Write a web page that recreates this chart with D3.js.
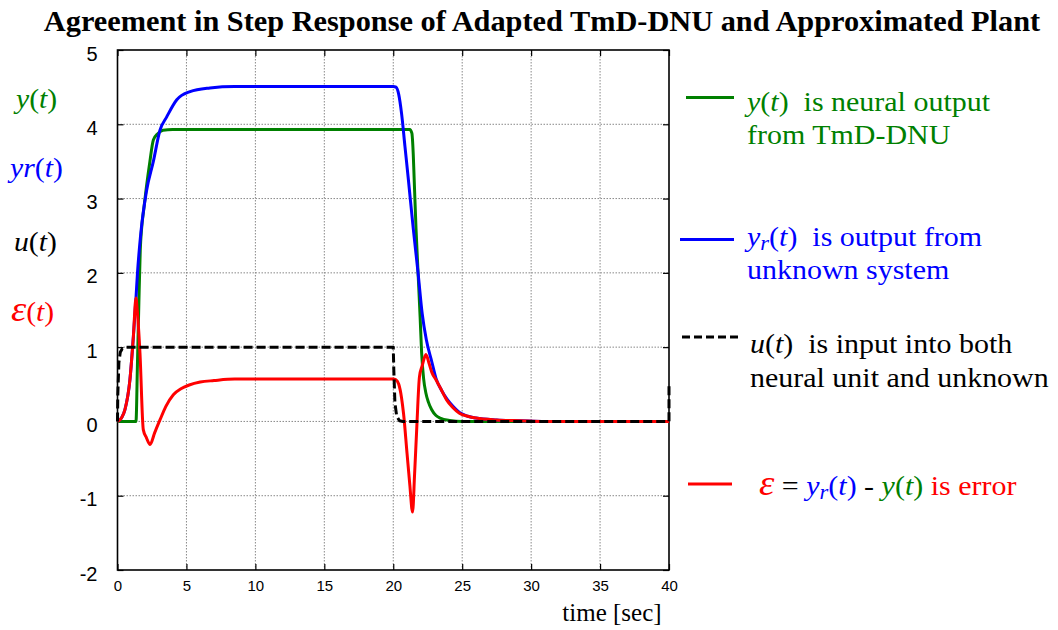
<!DOCTYPE html>
<html>
<head>
<meta charset="utf-8">
<script src="https://cdn.jsdelivr.net/npm/d3@7/dist/d3.min.js"></script>
<style>
  html, body { margin: 0; padding: 0; background: #fff; }
  svg { display: block; }
  text { white-space: pre; }
</style>
</head>
<body>
<svg id="chart" width="1058" height="630"></svg>
<script>
// Tick values
const xTicks = [0, 5, 10, 15, 20, 25, 30, 35, 40];
const yTicks = [-2, -1, 0, 1, 2, 3, 4, 5];

// u(t): input step (time, value)
const uTime = [0, 0.02, 0.1, 0.2, 0.35, 0.6, 1.0, 20.0, 20.04, 20.12, 20.25, 20.45, 20.7, 40.0, 40.0];
const uVal  = [0, 0.35, 0.79, 0.93, 0.98, 1.0, 1.0, 1.0, 0.7, 0.25, 0.07, 0.01, 0, 0, 0.52];

// y(t): neural unit output
const yTime = [0, 1.34, 1.45, 1.55, 1.65, 1.75, 1.9, 2.1, 2.35, 2.6, 2.9, 3.3, 4.0, 21.2, 21.35, 21.45, 21.52, 21.65, 21.8, 21.95, 22.06, 22.2, 22.37, 22.55, 22.78, 23.1, 23.4, 24.1, 25.0, 40.0];
const yVal  = [0, 0, 0.8, 1.6, 2.3, 2.6, 2.85, 3.16, 3.5, 3.79, 3.87, 3.92, 3.93, 3.93, 3.88, 3.6, 3.25, 2.6, 2.0, 1.4, 0.92, 0.58, 0.38, 0.26, 0.16, 0.08, 0.045, 0.013, 0, 0];

// yr(t): output of the unknown system
const yrTime = [0, 0.3, 0.54, 0.9, 1.15, 1.34, 1.45, 1.7, 2.1, 2.6, 3.08, 3.57, 4.3, 5.26, 6.7, 8.5, 20.0, 20.2, 20.4, 20.6, 20.85, 21.1, 21.45, 21.8, 22.1, 22.4, 22.8, 23.1, 23.5, 23.9, 24.4, 24.8, 25.4, 26.0, 27.5, 29.2, 31.0, 40.0];
const yrVal  = [0, 0.05, 0.16, 0.56, 1.14, 1.66, 2.0, 2.55, 3.1, 3.5, 3.92, 4.1, 4.33, 4.44, 4.49, 4.51, 4.51, 4.5, 4.4, 4.15, 3.7, 3.25, 2.6, 2.0, 1.45, 1.1, 0.8, 0.58, 0.42, 0.3, 0.19, 0.12, 0.07, 0.045, 0.02, 0.01, 0, 0];

// e(t) = yr(t) - y(t): error
const eTime = [0, 0.3, 0.54, 0.9, 1.15, 1.34, 1.45, 1.63, 1.87, 2.1, 2.36, 2.7, 3.08, 3.5, 4.05, 4.6, 5.2, 6.0, 7.0, 8.5, 20.0, 20.2, 20.4, 20.6, 20.75, 21.0, 21.2, 21.4, 21.55, 21.7, 21.9, 22.1, 22.37, 22.6, 22.8, 23.1, 23.5, 23.87, 24.3, 24.8, 25.4, 26.0, 27.5, 29.2, 31.0, 40.0];
const eVal  = [0, 0.05, 0.16, 0.56, 1.14, 1.66, 1.45, 0.92, -0.11, -0.22, -0.31, -0.15, 0.02, 0.2, 0.36, 0.44, 0.49, 0.53, 0.55, 0.57, 0.57, 0.56, 0.5, 0.32, 0.1, -0.43, -0.85, -1.22, -0.7, -0.11, 0.6, 0.75, 0.9, 0.78, 0.66, 0.56, 0.42, 0.29, 0.19, 0.11, 0.07, 0.045, 0.02, 0.01, 0, 0];

const colors = { y: "#008000", yr: "#0000ff", u: "#000000", e: "#ff0000" };

const svg = d3.select("#chart");
const plotL = 117.5, plotR = 669, plotT = 50, plotB = 570;

const x = d3.scaleLinear().domain([0, 40]).range([plotL, plotR]);
const y = d3.scaleLinear().domain([-2, 5]).range([plotB, plotT]);

const serif = "'Liberation Serif', 'Times New Roman', serif";
const sans = "'Liberation Sans', Arial, Helvetica, sans-serif";

// Title
svg.append("text")
  .attr("transform", "translate(542,31) scale(1.046,1)")
  .attr("text-anchor", "middle")
  .attr("font-family", serif).attr("font-weight", "bold").attr("font-size", 29)
  .text("Agreement in Step Response of Adapted TmD-DNU and Approximated Plant");

// Grid
const grid = svg.append("g").attr("stroke", "#888").attr("stroke-width", 1).attr("stroke-dasharray", "1.5,1.5");
xTicks.slice(1, -1).forEach(t => {
  grid.append("line").attr("x1", x(t)).attr("x2", x(t)).attr("y1", plotT).attr("y2", plotB);
});
yTicks.slice(1, -1).forEach(t => {
  grid.append("line").attr("x1", plotL).attr("x2", plotR).attr("y1", y(t)).attr("y2", y(t));
});

// Axes with inward ticks (mirrored on all sides)
const tickLen = 6;
const fmt = d => String(d);
const axB = svg.append("g").attr("transform", `translate(0,${plotB})`)
  .call(d3.axisBottom(x).tickValues(xTicks).tickSize(-tickLen).tickPadding(10).tickFormat(fmt));
const axT = svg.append("g").attr("transform", `translate(0,${plotT})`)
  .call(d3.axisTop(x).tickValues(xTicks).tickSize(-tickLen).tickFormat(""));
const axL = svg.append("g").attr("transform", `translate(${plotL},0)`)
  .call(d3.axisLeft(y).tickValues(yTicks).tickSize(-tickLen).tickPadding(20).tickFormat(fmt));
const axR = svg.append("g").attr("transform", `translate(${plotR},0)`)
  .call(d3.axisRight(y).tickValues(yTicks).tickSize(-tickLen).tickFormat(""));
[axB, axT, axL, axR].forEach(a => {
  a.select(".domain").remove();
  a.selectAll(".tick line").attr("stroke", "#000").attr("stroke-width", 1.2);
});
axB.selectAll(".tick text").attr("font-family", sans).attr("font-size", 15).attr("fill", "#000");
axL.selectAll(".tick text").attr("font-family", sans).attr("font-size", 20).attr("fill", "#000").attr("dy", "0.85em").attr("y", -7);

// Frame
svg.append("rect").attr("x", plotL).attr("y", plotT).attr("width", plotR - plotL).attr("height", plotB - plotT)
  .attr("fill", "none").attr("stroke", "#000").attr("stroke-width", 1.6);

// Series
const zip = (ts, vs) => ts.map((t, i) => [t, vs[i]]);
const smooth = d3.line().x(d => x(d[0])).y(d => y(d[1])).curve(d3.curveMonotoneX);
const straight = d3.line().x(d => x(d[0])).y(d => y(d[1]));

const plot = svg.append("g").attr("fill", "none").attr("stroke-linejoin", "round");
plot.append("path").attr("d", smooth(zip(yTime, yVal))).attr("stroke", colors.y).attr("stroke-width", 3);
plot.append("path").attr("d", smooth(zip(yrTime, yrVal))).attr("stroke", colors.yr).attr("stroke-width", 3);
plot.append("path").attr("d", smooth(zip(eTime, eVal))).attr("stroke", colors.e).attr("stroke-width", 3);
plot.append("path").attr("d", straight(zip(uTime, uVal))).attr("stroke", colors.u).attr("stroke-width", 3)
  .attr("stroke-dasharray", "9,4");

// Axis title
svg.append("text").attr("x", 612).attr("y", 621).attr("text-anchor", "middle")
  .attr("font-family", serif).attr("font-size", 25).text("time [sec]");

// Helper for mixed-style label text, slightly widened
function richText(xp, yp, size, sx, parts) {
  const t = svg.append("text").attr("transform", `translate(${xp},${yp}) scale(${sx},1)`)
    .attr("font-family", serif).attr("font-size", size);
  parts.forEach(p => {
    const s = t.append("tspan").text(p.text).attr("fill", p.color || "#000");
    if (p.italic) s.attr("font-style", "italic");
    if (p.sub) s.attr("font-size", size * 0.75).attr("baseline-shift", "-18%");
    if (p.big) s.attr("font-size", size * p.big);
  });
  return t;
}

// Left-side series labels
const S = 27, SX = 1.1;
richText(16, 108, S, SX, [{text: "y", italic: true, color: colors.y}, {text: "(", color: colors.y}, {text: "t", italic: true, color: colors.y}, {text: ")", color: colors.y}]);
richText(10, 177, S, SX, [{text: "yr", italic: true, color: colors.yr}, {text: "(", color: colors.yr}, {text: "t", italic: true, color: colors.yr}, {text: ")", color: colors.yr}]);
richText(14, 251, S, SX, [{text: "u", italic: true}, {text: "("}, {text: "t", italic: true}, {text: ")"}]);
richText(11, 321, S, SX, [{text: "ε", italic: true, big: 1.3, color: colors.e}, {text: "(", color: colors.e}, {text: "t", italic: true, color: colors.e}, {text: ")", color: colors.e}]);

// Legend
const leg = svg.append("g");
leg.append("line").attr("x1", 686).attr("x2", 734).attr("y1", 97.5).attr("y2", 97.5).attr("stroke", colors.y).attr("stroke-width", 3);
leg.append("line").attr("x1", 680).attr("x2", 734).attr("y1", 239.5).attr("y2", 239.5).attr("stroke", colors.yr).attr("stroke-width", 3);
leg.append("line").attr("x1", 682).attr("x2", 738).attr("y1", 337).attr("y2", 337).attr("stroke", colors.u).attr("stroke-width", 3).attr("stroke-dasharray", "8,4");
leg.append("line").attr("x1", 688).attr("x2", 732).attr("y1", 484).attr("y2", 484).attr("stroke", colors.e).attr("stroke-width", 3);

const L = 27, LX = 1.11;
richText(747, 111, L, LX, [{text: "y", italic: true, color: colors.y}, {text: "(", color: colors.y}, {text: "t", italic: true, color: colors.y}, {text: ")  is neural output", color: colors.y}]);
richText(747, 144, L, LX, [{text: "from TmD-DNU", color: colors.y}]);
richText(747, 246, L, LX, [{text: "y", italic: true, color: colors.yr}, {text: "r", italic: true, sub: true, color: colors.yr}, {text: "(", color: colors.yr}, {text: "t", italic: true, color: colors.yr}, {text: ")  is output from", color: colors.yr}]);
richText(747, 279, L, LX, [{text: "unknown system", color: colors.yr}]);
richText(750, 353, L, LX, [{text: "u", italic: true}, {text: "("}, {text: "t", italic: true}, {text: ")  is input into both"}]);
richText(750, 387, L, LX, [{text: "neural unit and unknown"}]);
richText(759, 495, L, LX, [
  {text: "ε", italic: true, big: 1.3, color: colors.e},
  {text: " = "},
  {text: "y", italic: true, color: colors.yr}, {text: "r", italic: true, sub: true, color: colors.yr},
  {text: "(", color: colors.yr}, {text: "t", italic: true, color: colors.yr}, {text: ")", color: colors.yr},
  {text: " - "},
  {text: "y", italic: true, color: colors.y}, {text: "(", color: colors.y}, {text: "t", italic: true, color: colors.y}, {text: ")", color: colors.y},
  {text: " is error", color: colors.e}
]);
</script>
</body>
</html>
